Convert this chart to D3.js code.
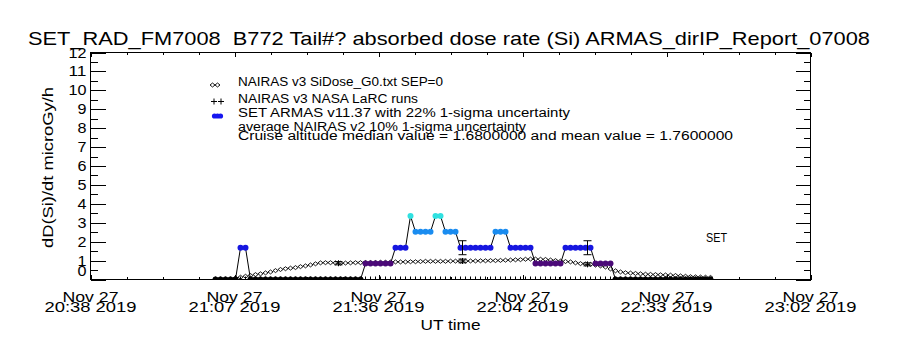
<!DOCTYPE html>
<html>
<head>
<meta charset="utf-8">
<script src="https://cdn.jsdelivr.net/npm/d3@7"></script>
<style>
  body { margin: 0; background: #fff; }
  svg text { font-family: "Liberation Sans", "DejaVu Sans", sans-serif; fill: #000; white-space: pre; }
</style>
</head>
<body>
<div id="chart"></div>
<script>
// ---- data ----
const startTime = Date.UTC(2019, 10, 27, 20, 38);
const endTime = Date.UTC(2019, 10, 27, 23, 2);
const tickDateLabels = ["Nov 27", "Nov 27", "Nov 27", "Nov 27", "Nov 27", "Nov 27"];
const tickTimeLabels = ["20:38 2019", "21:07 2019", "21:36 2019", "22:04 2019", "22:33 2019", "23:02 2019"];
const yTickValues = [0, 1, 2, 3, 4, 5, 6, 7, 8, 9, 10, 11, 12];

// NAIRAS v3 SiDose_G0, one value per minute from nairasStartMin (minutes after 20:38)
const nairasStartMin = 29;
const nairasDose = [
  0.08, 0.12, 0.17, 0.21, 0.26, 0.30, 0.35, 0.40, 0.47, 0.53,
  0.57, 0.60, 0.63, 0.68, 0.72, 0.77, 0.83, 0.88, 0.89, 0.89,
  0.88, 0.86, 0.87, 0.88, 0.89, 0.89, 0.90, 0.90, 0.90, 0.91,
  0.91, 0.92, 0.93, 0.93, 0.93, 0.94, 0.94, 0.95, 0.96, 0.96,
  0.96, 0.96, 0.96, 0.97, 0.97, 0.97, 0.97, 0.98, 0.98, 0.99,
  0.99, 1.00, 1.00, 1.01, 1.02, 1.03, 1.04, 1.05, 1.07, 1.08,
  1.08, 1.07, 1.06, 1.03, 1.00, 0.97, 0.95, 0.93, 0.88, 0.84,
  0.82, 0.80, 0.76, 0.72, 0.66, 0.56, 0.46, 0.40, 0.36, 0.34,
  0.32, 0.30, 0.28, 0.27, 0.26, 0.25, 0.24, 0.23, 0.21, 0.19,
  0.17, 0.15, 0.14, 0.13, 0.12, 0.11
];

// SET ARMAS v11.37, one value per minute from armasStartMin
const armasStartMin = 25;
const armasDose = [
  0, 0, 0, 0, 0, 1.68, 1.68, 0, 0, 0,
  0, 0, 0, 0, 0, 0, 0, 0, 0, 0,
  0, 0, 0, 0, 0, 0, 0, 0, 0, 0,
  0.84, 0.84, 0.84, 0.84, 0.84, 0.84, 1.68, 1.68, 1.68, 3.36,
  2.52, 2.52, 2.52, 2.52, 3.36, 3.36, 2.52, 2.52, 2.52, 1.68,
  1.68, 1.68, 1.68, 1.68, 1.68, 1.68, 2.52, 2.52, 2.52, 1.68,
  1.68, 1.68, 1.68, 1.68, 0.84, 0.84, 0.84, 0.84, 0.84, 0.84,
  1.68, 1.68, 1.68, 1.68, 1.68, 1.68, 0.84, 0.84, 0.84, 0.84,
  0, 0, 0, 0, 0, 0, 0, 0, 0, 0,
  0, 0, 0, 0, 0, 0, 0, 0, 0, 0
];
const armasLevels = [0, 0.84, 1.68, 2.52, 3.36];
const armasColors = ["#000000", "#4b0a78", "#1616e0", "#1a8cf0", "#30e0e0"];

// NASA LaRC runs: minutes after 20:38, NAIRAS value and ARMAS value at that time
const larcMin = [49.6, 74.4, 99.4];
const larcNairas = [0.86, 0.98, 0.80];
const larcArmas = [0, 1.68, 1.68];

const legendLabels = [
  "NAIRAS v3 SiDose_G0.txt SEP=0",
  "NAIRAS v3 NASA LaRC runs",
  "SET ARMAS v11.37 with 22% 1-sigma uncertainty",
  "average NAIRAS v2 10% 1-sigma uncertainty",
  "Cruise altitude median value = 1.6800000 and mean value = 1.7600000"
];

// ---- layout ----
const margin = { top: 52, right: 90, bottom: 71, left: 90 };
const width = 900 - margin.left - margin.right;
const height = 350 - margin.top - margin.bottom;

const root = d3.select("#chart").append("svg")
  .attr("width", 900)
  .attr("height", 350);

const svg = root.append("g")
  .attr("transform", `translate(${margin.left + 0.5},${margin.top + 0.5})`);

const minToDate = (m) => new Date(startTime + m * 60000);

const x = d3.scaleTime().domain([new Date(startTime), new Date(endTime)]).range([0, width]);
const y = d3.scaleLinear().domain([0, 12]).range([height, 0]);
const color = d3.scaleOrdinal().domain(armasLevels).range(armasColors);

const majorX = d3.range(6).map((i) => new Date(startTime + i * (endTime - startTime) / 5));
const minorX = d3.range(21).map((i) => new Date(startTime + i * (endTime - startTime) / 20));
const minorY = d3.range(0, 12.01, 0.5);

// ---- axes (ticks point inward like IDL) ----
function tickAxis(axis, vals, len, tr) {
  const g = svg.append("g").attr("transform", tr)
    .call(axis.tickValues(vals).tickSize(-len).tickFormat(""));
  g.select(".domain").remove();
  g.selectAll("line").attr("stroke", "#000").attr("shape-rendering", "crispEdges");
}
tickAxis(d3.axisLeft(y), yTickValues, 15, "");
tickAxis(d3.axisLeft(y), minorY, 7, "");
tickAxis(d3.axisRight(y), yTickValues, 15, `translate(${width},0)`);
tickAxis(d3.axisRight(y), minorY, 7, `translate(${width},0)`);
tickAxis(d3.axisBottom(x), majorX, 4.5, `translate(0,${height})`);
tickAxis(d3.axisBottom(x), minorX, 2.3, `translate(0,${height})`);
tickAxis(d3.axisTop(x), majorX, 4.5, "");
tickAxis(d3.axisTop(x), minorX, 2.3, "");

svg.append("rect")
  .attr("width", width).attr("height", height)
  .attr("fill", "none").attr("stroke", "#000")
  .attr("shape-rendering", "crispEdges");

// y tick labels
svg.append("g").selectAll("text").data(yTickValues).join("text")
  .attr("x", -4)
  .attr("y", (d) => (d === 0 ? y(d) - 9 : y(d)) + 5)
  .attr("text-anchor", "end")
  .attr("font-size", 14)
  .attr("textLength", (d) => String(d).length * 9)
  .attr("lengthAdjust", "spacingAndGlyphs")
  .text((d) => d);

// x tick labels (two lines)
const xl = svg.append("g").selectAll("g").data(majorX).join("g")
  .attr("transform", (d) => `translate(${x(d)},0)`);
xl.append("text")
  .attr("y", height + 22).attr("text-anchor", "middle")
  .attr("font-size", 14).attr("textLength", 56).attr("lengthAdjust", "spacingAndGlyphs")
  .text((d, i) => tickDateLabels[i]);
xl.append("text")
  .attr("y", height + 32.5).attr("text-anchor", "middle")
  .attr("font-size", 14).attr("textLength", 92).attr("lengthAdjust", "spacingAndGlyphs")
  .text((d, i) => tickTimeLabels[i]);

// axis titles
svg.append("text")
  .attr("x", width / 2).attr("y", height + 50)
  .attr("text-anchor", "middle").attr("font-size", 14)
  .attr("textLength", 60).attr("lengthAdjust", "spacingAndGlyphs")
  .text("UT time");

svg.append("text")
  .attr("transform", `translate(${-38},${167 - margin.top}) rotate(-90)`)
  .attr("text-anchor", "middle").attr("font-size", 15)
  .attr("textLength", 161).attr("lengthAdjust", "spacingAndGlyphs")
  .text("dD(Si)/dt microGy/h");

root.append("text")
  .attr("x", 449).attr("y", 45)
  .attr("text-anchor", "middle").attr("font-size", 19)
  .attr("textLength", 842).attr("lengthAdjust", "spacingAndGlyphs")
  .text("SET_RAD_FM7008  B772 Tail#? absorbed dose rate (Si) ARMAS_dirIP_Report_07008");

// ---- data marks, clipped to the plot box ----
root.append("defs").append("clipPath").attr("id", "plotclip")
  .append("rect").attr("width", width).attr("height", height);

const plot = svg.append("g").attr("clip-path", "url(#plotclip)");

const nairas = nairasDose.map((v, i) => ({ t: minToDate(nairasStartMin + i), v }));
const armas = armasDose.map((v, i) => ({ t: minToDate(armasStartMin + i), v }));
const larc = larcMin.map((m, i) => ({ t: minToDate(m), n: larcNairas[i], a: larcArmas[i] }));

// NAIRAS diamonds
const diamond = "M0,-2L2.5,0L0,2L-2.5,0Z";
plot.append("g").selectAll("path").data(nairas).join("path")
  .attr("d", diamond)
  .attr("transform", (d) => `translate(${x(d.t)},${y(d.v)})`)
  .attr("fill", "none").attr("stroke", "#000").attr("stroke-width", 0.9);

// ARMAS plus markers at the sample times
plot.append("g").selectAll("path").data(armas).join("path")
  .attr("d", "M-2,0H2M0,-3V3")
  .attr("transform", (d) => `translate(${x(d.t)},${y(0)})`)
  .attr("stroke", "#000");

// ARMAS connecting line
plot.append("path").datum(armas)
  .attr("d", d3.line().x((d) => x(d.t)).y((d) => y(d.v)))
  .attr("fill", "none").attr("stroke", "#000");

// ARMAS filled circles coloured by level
plot.append("g").selectAll("circle").data(armas).join("circle")
  .attr("cx", (d) => x(d.t)).attr("cy", (d) => y(d.v))
  .attr("r", 3)
  .attr("fill", (d) => color(d.v));

// error bars: ARMAS 22 %, NAIRAS 10 %
function errBar(g, t, v, frac) {
  const x0 = x(t), y1 = y(v * (1 - frac)), y2 = y(v * (1 + frac));
  g.append("path")
    .attr("d", `M${x0 - 4},${y1}H${x0 + 4}M${x0},${y1}V${y2}M${x0 - 4},${y2}H${x0 + 4}`)
    .attr("fill", "none").attr("stroke", "#000");
}
const eb = plot.append("g");
larc.forEach((d) => {
  errBar(eb, d.t, d.a, 0.22);
  errBar(eb, d.t, d.n, 0.10);
  eb.append("path")
    .attr("d", `M${x(d.t) - 3},${y(d.n)}H${x(d.t) + 3}M${x(d.t)},${y(d.n) - 3}V${y(d.n) + 3}`)
    .attr("stroke", "#000");
});

// ---- legend ----
const leg = root.append("g");
[212.5, 217.5].forEach((cx) => leg.append("path").attr("d", diamond)
  .attr("transform", `translate(${cx},85)`).attr("fill", "none").attr("stroke", "#000").attr("stroke-width", 0.9));
[214, 221].forEach((cx) => leg.append("path").attr("d", `M${cx - 3},101.5H${cx + 3}M${cx},98.5V104.5`).attr("stroke", "#000"));
[214.5, 217.5, 220.5].forEach((cx) => leg.append("circle").attr("cx", cx).attr("cy", 116).attr("r", 2.6).attr("fill", "#1616f0"));

const legY = [86, 103.3, 117.3, 130.5, 139.5];
const legW = [205, 180, 332, 288, 495];
leg.selectAll("text.l").data(legendLabels).join("text")
  .attr("class", "l")
  .attr("x", 238).attr("y", (d, i) => legY[i])
  .attr("font-size", 12.5)
  .attr("textLength", (d, i) => legW[i]).attr("lengthAdjust", "spacingAndGlyphs")
  .text((d) => d);

root.append("text")
  .attr("x", 706).attr("y", 241.7).attr("font-size", 13)
  .attr("textLength", 21).attr("lengthAdjust", "spacingAndGlyphs")
  .text("SET");
</script>
</body>
</html>
